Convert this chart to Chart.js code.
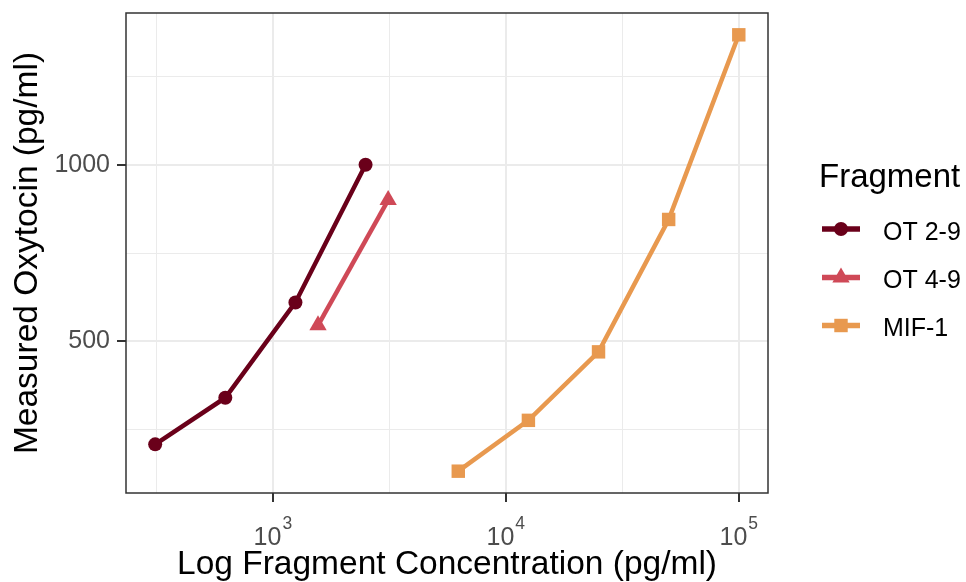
<!DOCTYPE html>
<html>
<head>
<meta charset="utf-8">
<title>Measured Oxytocin by Fragment</title>
<script src="https://cdn.jsdelivr.net/npm/chart.js@4.4.1/dist/chart.umd.min.js"></script>
<style>
    html, body { margin: 0; padding: 0; background: #ffffff; }
    #wrap { width: 966px; height: 582px; }
</style>
</head>
<body>
<div id="wrap"><canvas id="oxytocinChart" width="966" height="582"></canvas></div>
<script>
// data
const fragments = ['OT 2-9', 'OT 4-9', 'MIF-1'];
const fragmentColors = ['#6a001a', '#cf4957', '#e8994f'];
const fragmentShapes = ['circle', 'triangle', 'rect'];
const fragmentRadius = [7, 10, 9.5];

const ot29Conc = [312.5, 625, 1250, 2500];
const ot29Measured = [208, 340, 610, 1000];
const ot49Conc = [1562.5, 3125];
const ot49Measured = [545, 900];
const mif1Conc = [6250, 12500, 25000, 50000, 100000];
const mif1Measured = [132, 276, 470, 845, 1368];

// axis breaks (ggplot style: majors labelled, minors only gridlines)
const xMajorTicks = [1000, 10000, 100000];
const xExponents = ['3', '4', '5'];
const xMinorTicks = [316.23, 3162.3, 31623];
const yMajorTicks = [500, 1000];
const yMinorTicks = [250, 750, 1250];

const fontFamily = "'Liberation Sans', Arial, sans-serif";
const gridColor = '#ebebeb';
const axisDark = '#333333';
const tickText = '#4d4d4d';

Chart.defaults.font.family = fontFamily;

function toPoints(xs, ys) {
    return xs.map((x, i) => ({ x: x, y: ys[i] }));
}

const seriesData = [
    toPoints(ot29Conc, ot29Measured),
    toPoints(ot49Conc, ot49Measured),
    toPoints(mif1Conc, mif1Measured)
];

const datasets = fragments.map((name, i) => ({
    label: name,
    data: seriesData[i],
    borderColor: fragmentColors[i],
    backgroundColor: fragmentColors[i],
    pointBackgroundColor: fragmentColors[i],
    pointBorderWidth: 0,
    pointStyle: fragmentShapes[i],
    pointRadius: fragmentRadius[i],
    pointHoverRadius: fragmentRadius[i],
    borderWidth: 4.5,
    tension: 0,
    fill: false
}));

function isMajor(list, value) {
    return list.some(v => Math.abs(v - value) < 1e-6 * v);
}

function noScalePadding(scale) {
    scale.paddingTop = 0;
    scale.paddingBottom = 0;
    scale.paddingLeft = 0;
    scale.paddingRight = 0;
}

// panel border, x tick labels with superscripts, and the legend on the right
const ggDecor = {
    id: 'ggDecor',
    afterDatasetsDraw(chart) {
        const { ctx, chartArea } = chart;
        ctx.save();
        ctx.strokeStyle = axisDark;
        ctx.lineWidth = 1.5;
        ctx.strokeRect(chartArea.left, chartArea.top, chartArea.right - chartArea.left, chartArea.bottom - chartArea.top);
        ctx.restore();
    },
    afterDraw(chart) {
        const ctx = chart.ctx;
        const xScale = chart.scales.x;
        ctx.save();
        ctx.fillStyle = tickText;
        ctx.textBaseline = 'alphabetic';
        ctx.textAlign = 'left';
        xMajorTicks.forEach((v, i) => {
            const px = xScale.getPixelForValue(v);
            ctx.font = '25px ' + fontFamily;
            const w1 = ctx.measureText('10').width;
            ctx.font = '17.5px ' + fontFamily;
            const w2 = ctx.measureText(xExponents[i]).width;
            const start = px - (w1 + w2 + 1) / 2;
            ctx.font = '25px ' + fontFamily;
            ctx.fillText('10', start, 545);
            ctx.font = '17.5px ' + fontFamily;
            ctx.fillText(xExponents[i], start + w1 + 1, 529);
        });

        // legend
        ctx.fillStyle = '#000000';
        ctx.font = '33px ' + fontFamily;
        ctx.fillText('Fragment', 819, 187);
        const rowY = [229, 277.5, 325.5];
        fragments.forEach((name, i) => {
            const y = rowY[i];
            ctx.strokeStyle = fragmentColors[i];
            ctx.lineWidth = 5.5;
            ctx.beginPath();
            ctx.moveTo(822, y);
            ctx.lineTo(860, y);
            ctx.stroke();
            ctx.fillStyle = fragmentColors[i];
            Chart.helpers.drawPoint(ctx, {
                pointStyle: fragmentShapes[i],
                radius: fragmentRadius[i],
                rotation: 0,
                borderWidth: 0
            }, 841, y);
            ctx.fillStyle = '#000000';
            ctx.font = '25px ' + fontFamily;
            ctx.fillText(name, 883, y + 10.5);
        });
        ctx.restore();
    }
};

new Chart(document.getElementById('oxytocinChart'), {
    type: 'line',
    data: { datasets: datasets },
    plugins: [ggDecor],
    options: {
        responsive: false,
        animation: false,
        devicePixelRatio: 1,
        layout: {
            padding: { top: 13, right: 198, bottom: 0, left: 0 }
        },
        plugins: {
            legend: { display: false },
            tooltip: { enabled: false }
        },
        scales: {
            x: {
                type: 'logarithmic',
                min: 234.2,
                max: 133470,
                border: { display: false },
                afterBuildTicks: function (scale) {
                    scale.ticks = xMinorTicks.concat(xMajorTicks).sort((a, b) => a - b).map(v => ({ value: v }));
                },
                afterFit: function (scale) {
                    scale.height = 89;
                    noScalePadding(scale);
                },
                grid: {
                    color: gridColor,
                    lineWidth: ctx => isMajor(xMajorTicks, ctx.tick.value) ? 2 : 1,
                    tickColor: ctx => isMajor(xMajorTicks, ctx.tick.value) ? axisDark : 'rgba(0,0,0,0)',
                    tickLength: 9,
                    tickWidth: 2
                },
                ticks: {
                    autoSkip: false,
                    maxRotation: 0,
                    callback: () => ''
                },
                title: {
                    display: true,
                    text: 'Log Fragment Concentration (pg/ml)',
                    color: '#000000',
                    font: { size: 33.5, lineHeight: 1 },
                    padding: 0
                }
            },
            y: {
                type: 'linear',
                min: 70.2,
                max: 1429.8,
                border: { display: false },
                afterBuildTicks: function (scale) {
                    scale.ticks = yMinorTicks.concat(yMajorTicks).sort((a, b) => a - b).map(v => ({ value: v }));
                },
                afterFit: function (scale) {
                    scale.width = 126;
                    noScalePadding(scale);
                },
                grid: {
                    color: gridColor,
                    lineWidth: ctx => isMajor(yMajorTicks, ctx.tick.value) ? 2 : 1,
                    tickColor: ctx => isMajor(yMajorTicks, ctx.tick.value) ? axisDark : 'rgba(0,0,0,0)',
                    tickLength: 9,
                    tickWidth: 2
                },
                ticks: {
                    autoSkip: false,
                    color: tickText,
                    font: { size: 25 },
                    padding: 7,
                    callback: function (value) {
                        return isMajor(yMajorTicks, value) ? String(value) : '';
                    }
                },
                title: {
                    display: true,
                    text: 'Measured Oxytocin (pg/ml)',
                    color: '#000000',
                    font: { size: 33.5, lineHeight: 1 },
                    padding: { top: 11, bottom: 0 }
                }
            }
        }
    }
});
</script>
</body>
</html>
